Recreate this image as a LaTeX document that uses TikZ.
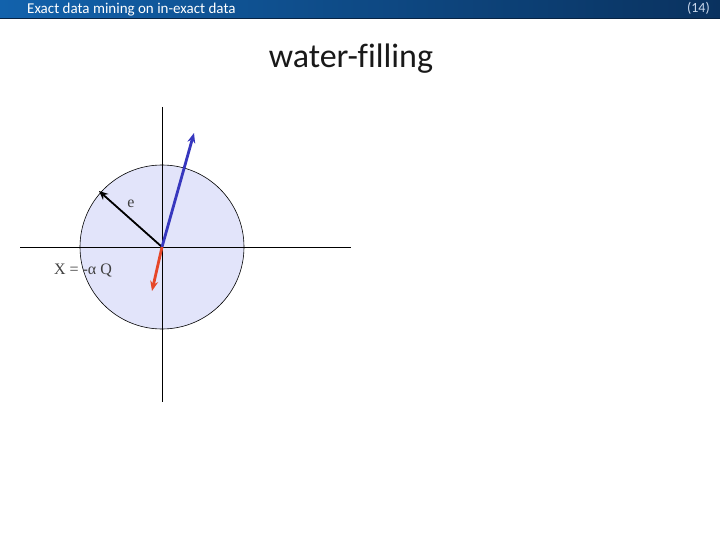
\documentclass[tikz,border=0pt]{standalone}
\usepackage{fontspec}
\setmainfont[Ligatures=NoCommon]{Carlito}
\newfontfamily\labelfont{Liberation Serif}
\usetikzlibrary{arrows.meta}

\definecolor{barleft}{RGB}{18,98,172}
\definecolor{barright}{RGB}{10,50,95}
\definecolor{disc}{RGB}{226,228,250}
\definecolor{bluevec}{RGB}{55,55,190}
\definecolor{redvec}{RGB}{230,70,40}
\definecolor{pagenum}{RGB}{200,215,235}

\tikzset{
    axis/.style={line width=0.6pt},
    vec/.style={line width=2.8pt, -{Stealth[length=10pt,width=8pt]}},
    thinvec/.style={line width=1.8pt, -{Stealth[length=9pt,width=8pt]}},
    lbl/.style={font=\labelfont\fontsize{16}{16}\selectfont, text=black!75, inner sep=1pt}
}

\begin{document}
\begin{tikzpicture}[x=1pt,y=-1pt]

    % page frame
    \useasboundingbox (0,0) rectangle (720,540);
    \fill[white] (0,0) rectangle (720,540);

    % Header bar
    \shade[left color=barleft, right color=barright] (0,0) rectangle (720,19);
    \draw[barright!70!black, line width=1pt] (0,19) -- (720,19);
    \node[anchor=west, text=white, font=\fontsize{15}{15}\selectfont, inner sep=0pt] (header) at (27,10) {Exact data mining on in-exact data};
    \node[anchor=east, text=pagenum, font=\fontsize{14}{14}\selectfont, inner sep=0pt] (pagenr) at (710,8) {(14)};

    % Title
    \node[font=\fontsize{34}{36}\selectfont, text=black!90] (title) at (351,59) {water-filling};

    % the disc
    \coordinate (O) at (162,247);
    \fill[disc] (O) circle (82);
    \draw[line width=0.6pt] (O) circle (82);

    % axes
    \coordinate (xl) at (20,247);
    \coordinate (xr) at (351,247);
    \coordinate (yt) at (162,107);
    \coordinate (yb) at (162,402);
    \draw[axis] (xl) -- (xr);
    \draw[axis] (yt) -- (yb);

    % vectors
    \coordinate (Etip) at (99,191);
    \coordinate (Btip) at (194,133);
    \coordinate (Rtip) at (152,291);
    \draw[thinvec, black] (O) -- (Etip);
    \draw[vec, bluevec] (O) -- (Btip);
    \draw[vec, redvec] (O) -- (Rtip);

    % labels
    \node[lbl] (elabel) at (131,204) {e};
    \node[lbl] (xlabel) at (83,270) {X = -α Q};

\end{tikzpicture}
\end{document}
